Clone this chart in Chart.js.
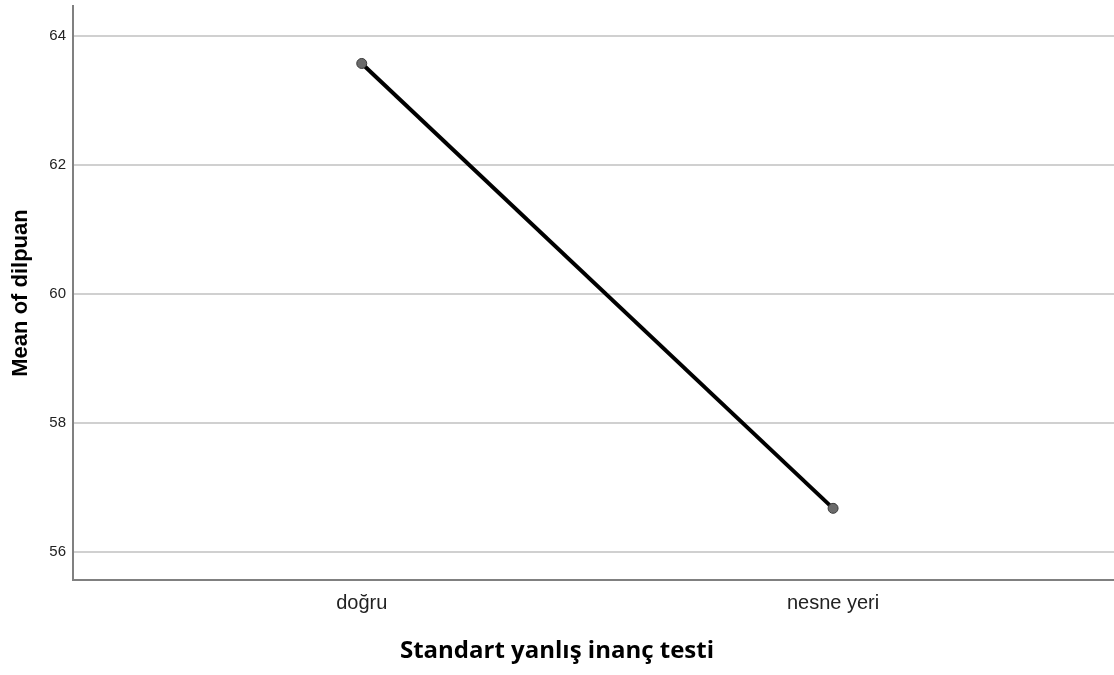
<!DOCTYPE html>
<html>
<head>
<meta charset="utf-8">
<script src="https://cdn.jsdelivr.net/npm/chart.js@4"></script>
<style>
  html, body { margin: 0; padding: 0; background: #fff; overflow: hidden; }
  #wrap { position: absolute; left: 0; top: 0; width: 1114px; height: 675px; }
</style>
</head>
<body>
<div id="wrap"><canvas id="c"></canvas></div>
<script>
// veriler
const categories = ['doğru', 'nesne yeri'];
const meanValues = [63.57, 56.68];
const yTicks = [56, 58, 60, 62, 64];

const points = categories.map((c, i) => ({ x: i, y: meanValues[i] }));

new Chart(document.getElementById('c'), {
  type: 'line',
  data: {
    datasets: [{
      label: 'Mean of dilpuan',
      data: points,
      borderColor: '#000',
      borderWidth: 4,
      pointRadius: 5,
      pointBackgroundColor: '#6b6b6b',
      pointBorderColor: '#3a3a3a',
      pointBorderWidth: 1,
      tension: 0
    }]
  },
  options: {
    responsive: true,
    maintainAspectRatio: false,
    animation: false,
    layout: { autoPadding: false, padding: { top: 6, right: 0, left: 0, bottom: 0 } },
    plugins: {
      legend: { display: false },
      tooltip: { enabled: false },
      // eksen başlığı tüm genişliğe göre ortalansın diye title eklentisi
      title: {
        display: true,
        position: 'bottom',
        text: 'Standart yanlış inanç testi',
        color: '#000',
        font: { family: 'Open Sans', size: 24, weight: 'bold', lineHeight: 1.2 },
        padding: { top: 0, bottom: 9.6 }
      }
    },
    scales: {
      x: {
        type: 'linear',
        min: -0.6126,
        max: 1.596,
        afterBuildTicks: s => { s.ticks = categories.map((c, i) => ({ value: i })); },
        afterFit: s => { s.height = 95 - 38.4; s.paddingLeft = 0; s.paddingRight = 0; },
        grid: { display: false, drawTicks: false },
        border: { display: true, color: '#808080', width: 2 },
        ticks: {
          padding: 11,
          color: '#222',
          font: { family: 'Liberation Sans', size: 20 },
          callback: v => categories[v]
        }
      },
      y: {
        min: 55.57,
        max: 64.46,
        afterBuildTicks: s => { s.ticks = yTicks.map(v => ({ value: v })); },
        afterFit: s => { s.width = 73; s.paddingTop = 0; s.paddingBottom = 0; },
        grid: { color: '#d0d0d0', lineWidth: 2, drawTicks: false },
        border: { display: true, color: '#808080', width: 2 },
        ticks: {
          padding: 7,
          color: '#222',
          font: { family: 'Liberation Sans', size: 15 }
        },
        title: {
          display: true,
          text: 'Mean of dilpuan',
          color: '#000',
          font: { family: 'Liberation Sans', size: 22, weight: 'bold' },
          padding: { top: 8, bottom: 0 }
        }
      }
    }
  }
});
</script>
</body>
</html>
